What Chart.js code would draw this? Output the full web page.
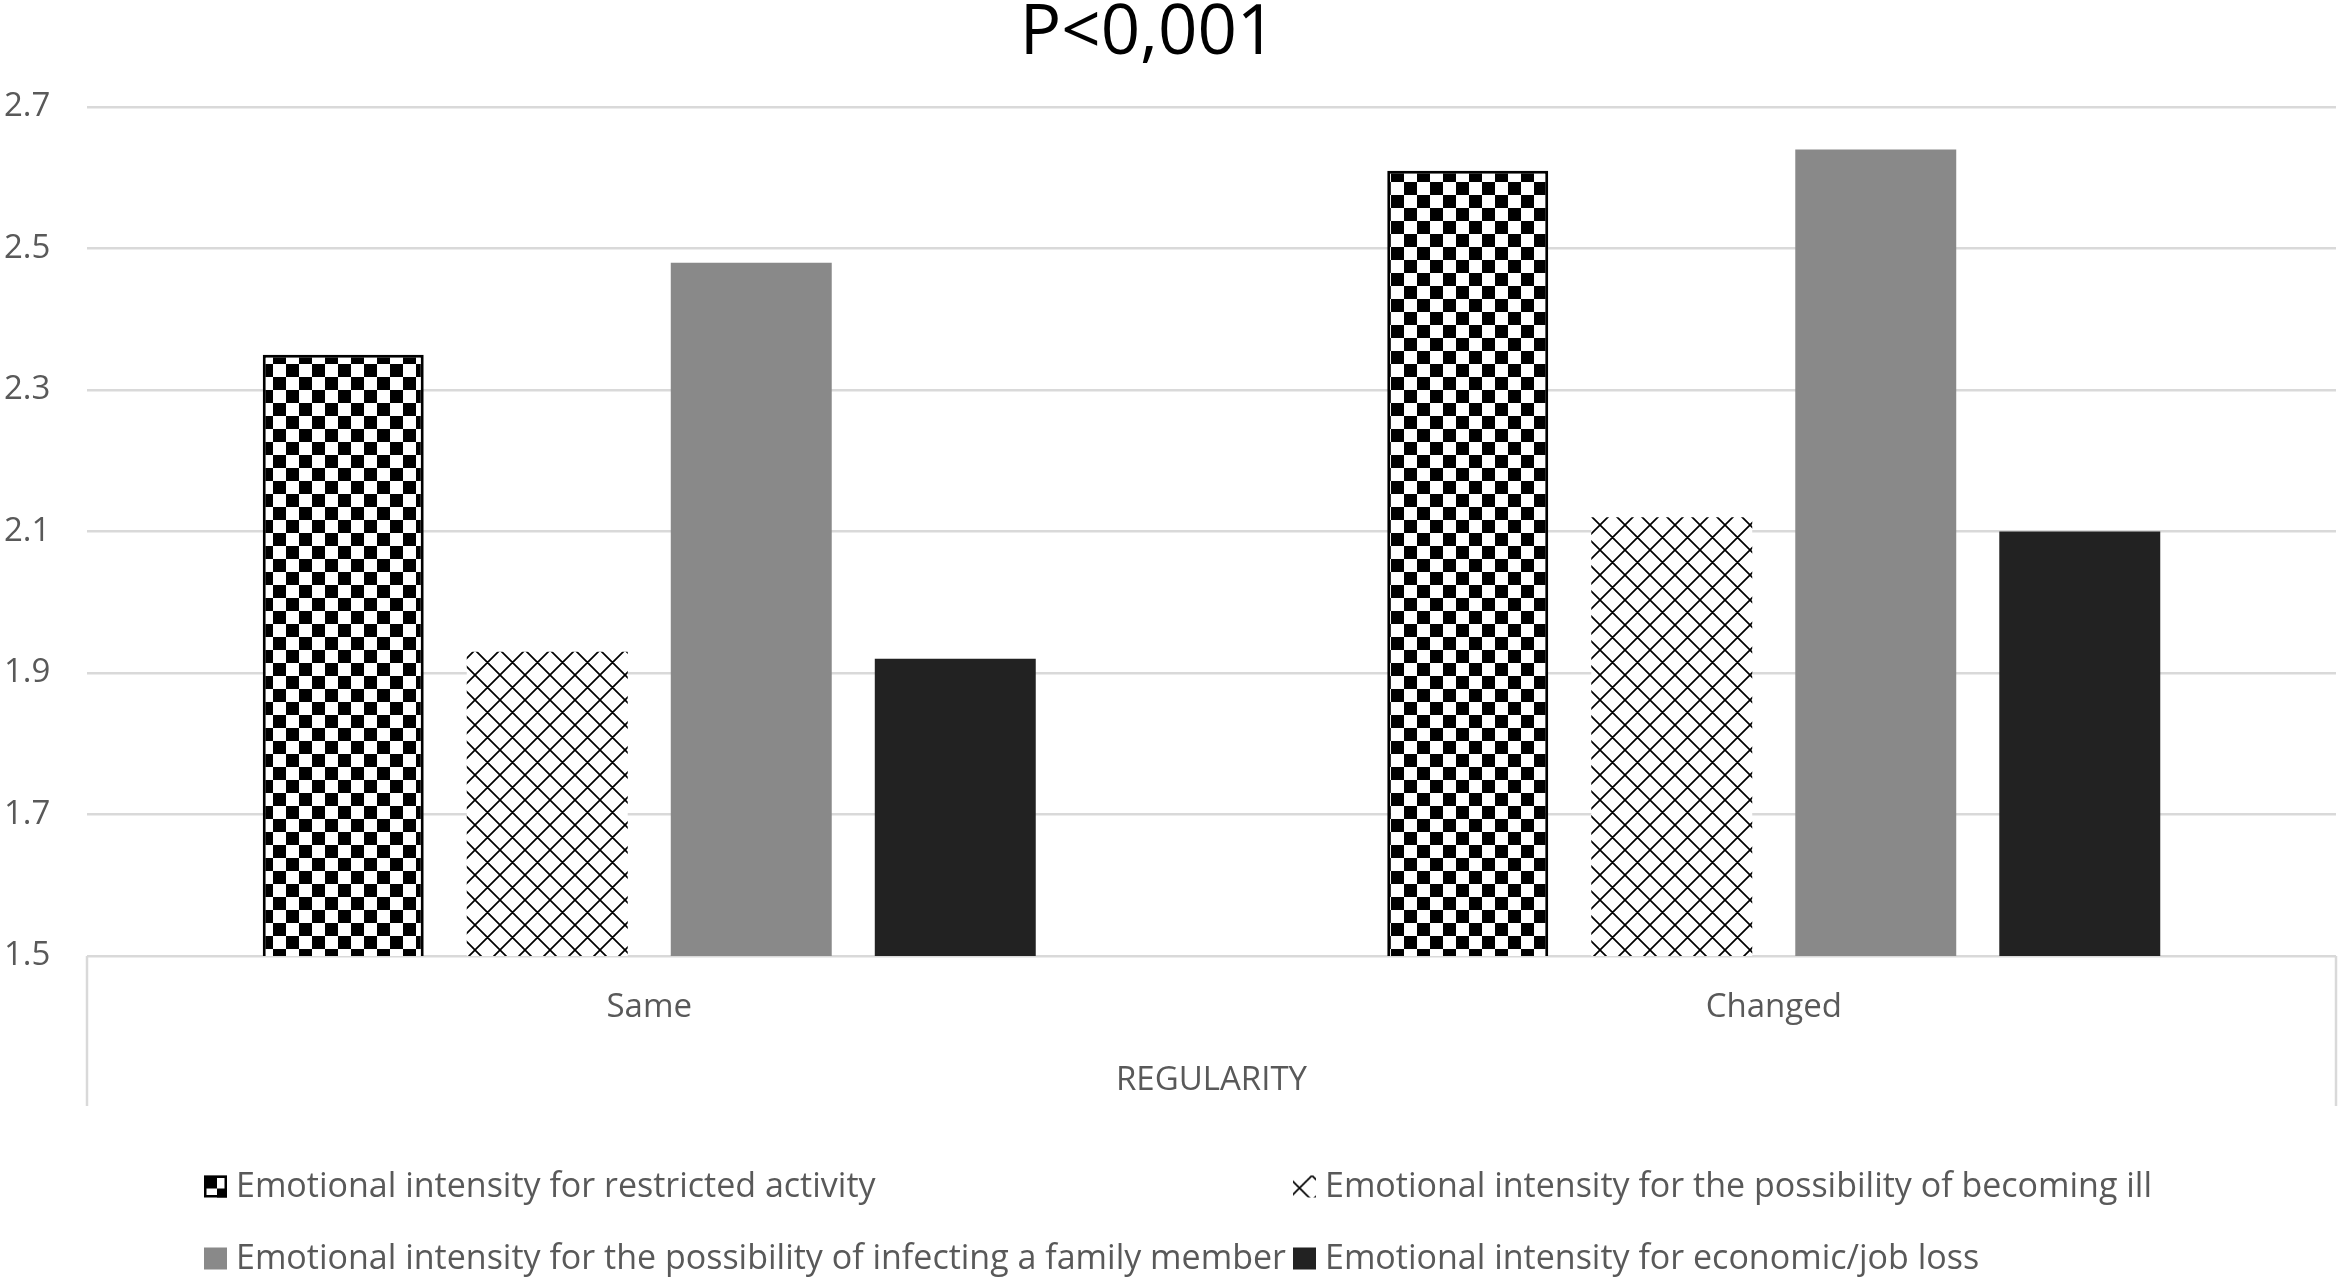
<!DOCTYPE html>
<html>
<head>
<meta charset="utf-8">
<script src="https://cdn.jsdelivr.net/npm/chart.js@4.4.1/dist/chart.umd.min.js"></script>
<style>
html,body{margin:0;padding:0;background:#ffffff;overflow:hidden;}
#wrap{width:2341px;height:1281px;position:relative;}
canvas{display:block;}
</style>
</head>
<body>
<div id="wrap"><canvas id="c" width="2341" height="1281"></canvas></div>
<script>
// ---- data ----
const categories = ['Same', 'Changed'];
const seriesLabels = [
  'Emotional intensity for restricted activity',
  'Emotional intensity for the possibility of becoming ill',
  'Emotional intensity for the possibility of infecting a family member',
  'Emotional intensity for economic/job loss'
];
const restrictedActivity = [2.35, 2.61];
const becomingIll = [1.93, 2.12];
const infectingFamily = [2.48, 2.64];
const economicLoss = [1.92, 2.10];
const yTicks = [1.5, 1.7, 1.9, 2.1, 2.3, 2.5, 2.7];
const chartTitle = 'P<0,001';
const axisTitle = 'REGULARITY';

// ---- styles ----
const TEXT = '#595959';
const GRID = '#d9d9d9';
const FONT = 'Open Sans';

function checkerPattern(cell) {
  const c = document.createElement('canvas');
  c.width = c.height = cell * 2;
  const g = c.getContext('2d');
  g.fillStyle = '#ffffff'; g.fillRect(0, 0, cell * 2, cell * 2);
  g.fillStyle = '#000000';
  g.fillRect(0, 0, cell, cell);
  g.fillRect(cell, cell, cell, cell);
  return document.createElement('canvas').getContext('2d').createPattern(c, 'repeat');
}
function diamondPattern(s, lw) {
  const c = document.createElement('canvas');
  c.width = c.height = s;
  const g = c.getContext('2d');
  g.fillStyle = '#ffffff'; g.fillRect(0, 0, s, s);
  g.strokeStyle = '#000000'; g.lineWidth = lw;
  g.beginPath();
  for (const ox of [-s, 0, s]) for (const oy of [-s, 0, s]) {
    g.moveTo(ox, oy); g.lineTo(ox + s, oy + s);
    g.moveTo(ox + s, oy); g.lineTo(ox, oy + s);
  }
  g.stroke();
  return g.createPattern(c, 'repeat');
}

const checker = checkerPattern(13);
const diamond = diamondPattern(25, 1.7);

const legendLayout = { cols: [204, 1293], rows: [1187, 1259], box: 23, gap: 9, fontSize: 34 };

const boxAndLegend = {
  id: 'boxAndLegend',
  afterLayout(chart) {
    if (chart.titleBlock) chart.titleBlock.right -= 44;
  },
  afterDraw(chart) {
    const ctx = chart.ctx, a = chart.chartArea, xs = chart.scales.x;
    ctx.save();
    ctx.strokeStyle = GRID; ctx.lineWidth = 2.5;
    ctx.beginPath();
    ctx.moveTo(a.left, a.bottom); ctx.lineTo(a.left, xs.bottom);
    ctx.moveTo(a.right, a.bottom); ctx.lineTo(a.right, xs.bottom);
    ctx.stroke();
    // legend (2 x 2 grid)
    const L = legendLayout;
    ctx.font = L.fontSize + 'px "' + FONT + '"';
    ctx.textBaseline = 'alphabetic';
    ctx.textAlign = 'left';
    chart.data.datasets.forEach((ds, i) => {
      const x = L.cols[i % 2], yc = L.rows[Math.floor(i / 2)];
      const bx = x, by = yc - L.box / 2;
      ctx.save();
      ctx.translate(bx, by);
      if (i === 1) ctx.translate(-6, 0);
      ctx.fillStyle = ds.backgroundColor;
      ctx.fillRect(i === 1 ? 6 : 0, 0, L.box, L.box - 1);
      ctx.restore();
      if (ds.borderWidth) {
        ctx.strokeStyle = ds.borderColor; ctx.lineWidth = 2.5;
        ctx.strokeRect(bx + 1.25, by + 1.25, L.box - 2.5, L.box - 3.5);
      }
      ctx.fillStyle = TEXT;
      ctx.fillText(ds.label, x + L.box + L.gap, yc + 10);
    });
    ctx.restore();
  }
};

function build() {
  Chart.defaults.font.family = FONT;
  new Chart(document.getElementById('c'), {
    type: 'bar',
    data: {
      labels: categories,
      datasets: [
        { label: seriesLabels[0], data: restrictedActivity, backgroundColor: checker, borderColor: '#000000', borderWidth: 3 },
        { label: seriesLabels[1], data: becomingIll, backgroundColor: diamond, borderWidth: 0 },
        { label: seriesLabels[2], data: infectingFamily, backgroundColor: '#898989', borderWidth: 0 },
        { label: seriesLabels[3], data: economicLoss, backgroundColor: '#222222', borderWidth: 0 }
      ]
    },
    plugins: [boxAndLegend],
    options: {
      responsive: false,
      animation: false,
      devicePixelRatio: 1,
      events: [],
      datasets: { bar: { categoryPercentage: 0.7257, barPercentage: 0.789 } },
      layout: { padding: { left: 4, right: 5, top: 0, bottom: 175 } },
      plugins: {
        legend: { display: false },
        tooltip: { enabled: false },
        title: {
          display: true, text: chartTitle, color: '#000000',
          font: { family: FONT, size: 69, weight: 'normal', lineHeight: 1 },
          padding: { top: 0, bottom: 38 }
        }
      },
      scales: {
        x: {
          grid: { display: false },
          border: { display: false },
          ticks: { color: TEXT, font: { family: FONT, size: 33 }, padding: 24, maxRotation: 0 },
          title: {
            display: true, text: axisTitle, color: TEXT,
            font: { family: FONT, size: 33 }, padding: { top: 30, bottom: 6 }
          },
          afterFit(s) { s.height = 150; }
        },
        y: {
          min: yTicks[0], max: yTicks[yTicks.length - 1],
          afterBuildTicks(s) { s.ticks = yTicks.map(v => ({ value: v })); },
          ticks: {
            color: TEXT, font: { family: FONT, size: 33 }, crossAlign: 'far', padding: 8,
            callback: v => Number(v).toFixed(1)
          },
          grid: { color: GRID, lineWidth: 2.5, drawTicks: false },
          border: { display: false },
          afterFit(s) { s.width = 83; }
        }
      }
    }
  });
}

Promise.race([
  Promise.all([document.fonts.load('33px "Open Sans"'), document.fonts.load('69px "Open Sans"')]),
  new Promise(r => setTimeout(r, 1500))
]).then(build, build);
</script>
</body>
</html>
